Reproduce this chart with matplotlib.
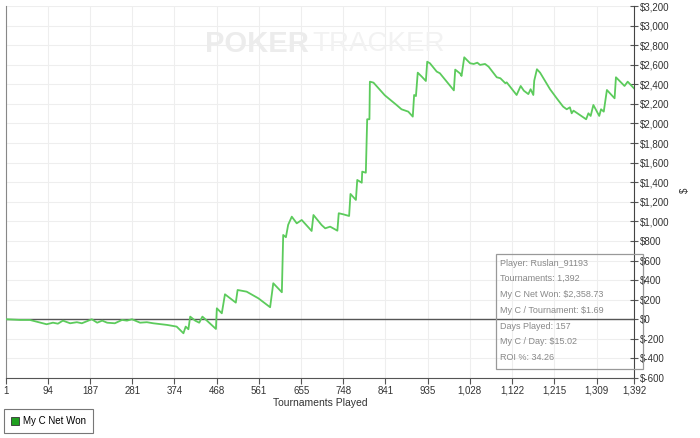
import matplotlib
matplotlib.use("Agg")
import matplotlib.pyplot as plt
from matplotlib.ticker import FuncFormatter, FixedLocator, MultipleLocator
from matplotlib.patches import Rectangle

plt.rcParams["font.family"] = ["Liberation Sans", "DejaVu Sans"]

# tournaments played vs cumulative net won ($)
tournaments = [1, 32, 54, 91, 105, 116, 127, 143, 158, 169, 191, 203, 214, 225, 242,
               258, 269, 280, 298, 313, 327, 358, 379, 394, 399, 405, 409, 420, 429,
               436, 446, 466, 468, 479, 486, 510, 514, 534, 560, 586, 593, 612, 615,
               621, 626, 634, 645, 656, 678, 682, 700, 708, 719, 735, 738, 748, 761,
               764, 776, 779, 789, 790, 798, 801, 806, 807, 815, 840, 866, 877, 892,
               902, 905, 909, 913, 922, 931, 934, 940, 955, 962, 993, 996, 1007, 1010,
               1016, 1029, 1037, 1045, 1051, 1062, 1070, 1088, 1096, 1107, 1110, 1132,
               1141, 1148, 1158, 1163, 1169, 1171, 1177, 1184, 1206, 1222, 1235, 1243,
               1250, 1254, 1258, 1286, 1291, 1296, 1302, 1315, 1319, 1325, 1332, 1349,
               1352, 1371, 1378, 1385, 1392]
net_won = [0, -7, -7, -51, -35, -45, -14, -41, -30, -41, 0, -35, -14, -35, -41,
           -7, -14, 0, -35, -30, -41, -58, -75, -143, -75, -102, 27, -14, -35,
           27, -14, -99, 112, 61, 255, 170, 299, 282, 214, 123, 368, 276, 861,
           838, 965, 1048, 980, 1014, 902, 1065, 963, 929, 946, 905, 1083, 1072, 1055,
           1280, 1219, 1423, 1395, 1508, 1497, 2043, 2043, 2427, 2417, 2288, 2189, 2145, 2121,
           2070, 2291, 2280, 2519, 2478, 2434, 2631, 2615, 2530, 2513, 2338, 2550, 2510, 2485,
           2676, 2615, 2608, 2621, 2598, 2608, 2580, 2472, 2462, 2411, 2420, 2291,
           2383, 2335, 2300, 2350, 2291, 2437, 2554, 2519, 2350, 2250, 2172, 2145,
           2165, 2104, 2131, 2043, 2104, 2077, 2189, 2077, 2145, 2121, 2342, 2257,
           2472, 2383, 2427, 2393, 2359]

x_ticks = [1, 94, 187, 281, 374, 468, 561, 655, 748, 841, 935, 1028, 1122, 1215, 1309, 1392]

stats = ["Player: Ruslan_91193", "Tournaments: 1,392", "My C Net Won: $2,358.73",
         "My C / Tournament: $1.69", "Days Played: 157", "My C / Day: $15.02",
         "ROI %: 34.26"]

fig = plt.figure(figsize=(7, 4.38), dpi=100)
ax = fig.add_axes([6 / 700, 1 - 378 / 438, 628 / 700, 372 / 438])

ax.plot(tournaments, net_won, color="#5ccb5c", lw=1.3, zorder=3)
ax.axhline(0, color="#555555", lw=1.0, zorder=2)

ax.set_xlim(1, 1392)
ax.set_ylim(-600, 3200)
ax.xaxis.set_major_locator(FixedLocator(x_ticks))
ax.xaxis.set_major_formatter(FuncFormatter(lambda v, p: f"{int(round(v)):,}"))
ax.yaxis.set_major_locator(MultipleLocator(200))
ax.yaxis.set_major_formatter(FuncFormatter(
    lambda v, p: f"$-{abs(int(v)):,}" if v < 0 else f"${int(v):,}"))
ax.yaxis.tick_right()
ax.yaxis.set_label_position("right")
ax.set_ylabel("$", fontsize=7, color="#333333")
ax.yaxis.set_label_coords(1.073, 0.505)
ax.set_xlabel("Tournaments Played", fontsize=7.5, color="#333333", labelpad=2)

ax.grid(True, color="#eeeeee", lw=0.8, zorder=0)
ax.tick_params(axis="both", labelsize=7, colors="#555555", labelcolor="#333333",
               length=4, width=0.8, pad=1.5)
ax.tick_params(axis="y", direction="inout", length=6)

ax.spines["top"].set_visible(False)
ax.spines["left"].set_color("#888888")
ax.spines["bottom"].set_color("#555555")
ax.spines["right"].set_color("#444444")

# watermark
fig.text(205 / 700, 1 - 44 / 438, "POKER", fontsize=21, fontweight="bold", color="#ececec",
         ha="left", va="center", zorder=0)
fig.text(312 / 700, 1 - 44 / 438, "TRACKER", fontsize=20, color="#f2f2f2",
         ha="left", va="center", zorder=0)

# stats box (figure pixels)
fig.patches.append(Rectangle((496 / 700, 1 - 369 / 438), 147 / 700, 115 / 438,
                             transform=fig.transFigure, fill=False,
                             edgecolor="#999999", lw=0.9, zorder=5))
for i, line in enumerate(stats):
    fig.text(500 / 700, 1 - (263 + i * 15.8) / 438, line, fontsize=6.5,
             color="#888888", ha="left", va="center")

# legend
leg_h = ax.plot([], [], marker="s", ls="none", markersize=6,
                markerfacecolor="#20a020", markeredgecolor="#333333",
                markeredgewidth=0.6, label="My C Net Won")[0]
leg = fig.legend(handles=[leg_h], loc="lower left", bbox_to_anchor=(4 / 700, 1 - 433 / 438),
                 fontsize=7, frameon=True, fancybox=False, handletextpad=0.5,
                 borderpad=0.7, handlelength=0.8, borderaxespad=0)
leg.get_frame().set_edgecolor("#555555")
leg.get_frame().set_linewidth(0.8)

fig.savefig("out.png", dpi=100)
